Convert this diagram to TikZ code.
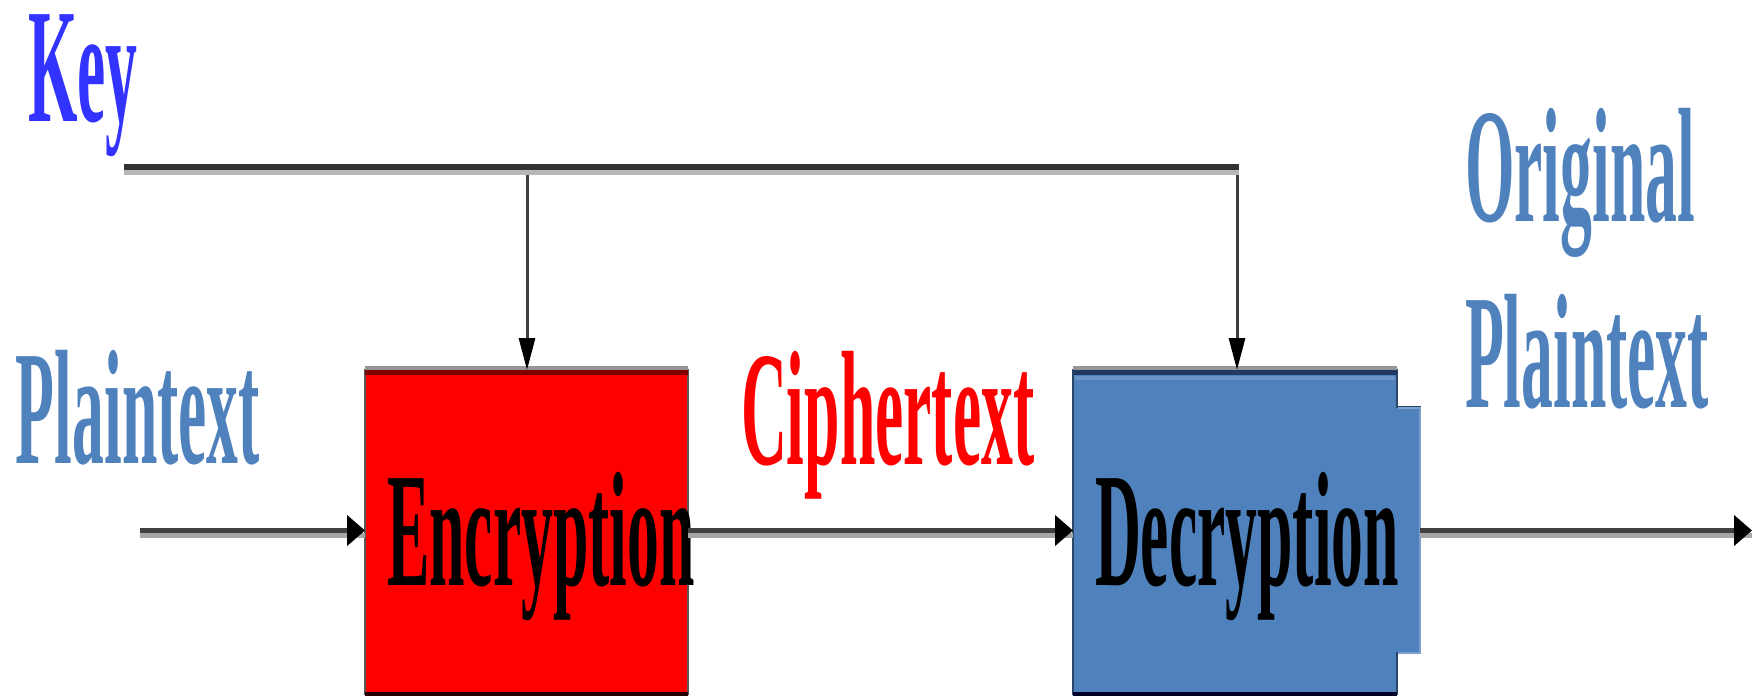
\documentclass[tikz,border=0pt]{standalone}
\usepackage{fontspec}
\setmainfont{Liberation Serif}
\usetikzlibrary{arrows.meta,calc}

\definecolor{keyblue}{RGB}{51,51,255}
\definecolor{plainblue}{RGB}{79,129,189}
\definecolor{decblue}{RGB}{79,129,189}
\definecolor{decnavy}{RGB}{31,56,100}
\definecolor{encdark}{RGB}{128,0,0}
\definecolor{linedark}{RGB}{64,64,64}
\definecolor{lineshade}{RGB}{166,166,166}
\definecolor{keydark}{RGB}{51,51,51}
\definecolor{keyshade}{RGB}{184,184,184}
\definecolor{topshade}{RGB}{150,150,150}

% tall, narrow bold serif lettering
\newcommand{\narrowtext}[1]{\scalebox{0.39}[1]{\bfseries #1}}

\begin{document}
\begin{tikzpicture}[x=0.5pt,y=-0.5pt,
  caption/.style={anchor=base west, inner sep=0pt, outer sep=0pt,
    text height=55pt, font=\fontsize{81.6pt}{90pt}\selectfont},
  flow/.style={draw=linedark, line width=2.5pt,
    -{Triangle[length=9pt,width=15pt,color=black]},
    preaction={draw=lineshade, line width=2.5pt, arrows=-,
      transform canvas={yshift=-2.5pt}}},
  keybar/.style={draw=keydark, line width=3pt,
    preaction={draw=keyshade, line width=2.5pt,
      transform canvas={yshift=-2.75pt}}},
  keyarrow/.style={draw=linedark, line width=1.5pt,
    -{Triangle[length=16pt,width=8pt,color=black]}},
  boxshape/.style={inner sep=0pt, outer sep=0pt,
    minimum width=161.5pt, minimum height=162pt}
]
\useasboundingbox (0,0) rectangle (1760,696);

% the two processing blocks
\node[boxshape, fill=red, draw=black!65, line width=0.8pt] (enc) at (526.5,532) {};
\node[boxshape, minimum width=162pt] (dec) at (1235,532) {};
\filldraw[fill=decblue, draw=decblue!55!black, line width=0.6pt]
  (dec.north west) -- (dec.north east) -- ($(dec.north east)+(0,37)$)
  -- ($(dec.north east)+(23,37)$) -- ($(dec.south east)+(23,-41)$)
  -- ($(dec.south east)+(0,-41)$) -- (dec.south east) -- (dec.south west) -- cycle;
% lighter rim along the side tab
\draw[decblue!75!white, line width=1pt]
  ($(dec.north east)+(1,38)$) -- ($(dec.north east)+(23,38)$)
  -- ($(dec.south east)+(23,-41)$) -- ($(dec.south east)+(1,-41)$);

% top and bottom edges of the blocks
\draw[topshade, line width=2pt] ([yshift=1pt]enc.north west) -- ([yshift=1pt]enc.north east);
\draw[encdark, line width=2.5pt] ([yshift=-1.25pt]enc.north west) -- ([yshift=-1.25pt]enc.north east);
\draw[black!85!red, line width=2pt] (enc.south west) -- (enc.south east);
\draw[topshade, line width=2pt] ([yshift=1pt]dec.north west) -- ([yshift=1pt]dec.north east);
\draw[decnavy, line width=2.5pt] ([yshift=-1.25pt]dec.north west) -- ([yshift=-1.25pt]dec.north east);
\draw[decblue!85!white, line width=2pt] ([xshift=1pt,yshift=-3.75pt]dec.north west) -- ([xshift=-1pt,yshift=-3.75pt]dec.north east);
\draw[black!85!blue, line width=2pt] (dec.south west) -- (dec.south east);

% texts
\node[caption, text=keyblue] (keylbl) at (28,121) {\narrowtext{Key}};
\node[caption, text=plainblue] (plainlbl) at (16,463) {\narrowtext{Plaintext}};
\node[caption, text=red] (cipherlbl) at (741,464) {\narrowtext{Ciphertext}};
\node[caption, text=plainblue] (origlbl) at (1465,221) {\narrowtext{Original}};
\node[caption, text=plainblue] (origlbl2) at (1465,407) {\narrowtext{Plaintext}};
\node[caption, text=black] (enclbl) at (387,585) {\narrowtext{Encryption}};
\node[caption, text=black] (declbl) at (1095,585) {\narrowtext{Decryption}};

% key distribution
\coordinate (keystart) at (124,167);
\coordinate (tapenc) at (527,167);
\coordinate (tapdec) at (1237,167);
\draw[keyarrow] (tapenc) -- (tapenc |- enc.north);
\draw[keyarrow] (tapdec) -- (tapdec |- dec.north);
\draw[keybar] (keystart) -- ([xshift=0.75pt]tapdec);

% data flow
\coordinate (pin) at (140,530.5);
\coordinate (pout) at (1752,530.5);
\draw[flow] (pin) -- (enc.west |- pin);
\draw[flow] (enc.east |- pin) -- (dec.west |- pin);
\draw[flow] ($(dec.east |- pin)+(23,0)$) -- (pout);
\end{tikzpicture}
\end{document}
